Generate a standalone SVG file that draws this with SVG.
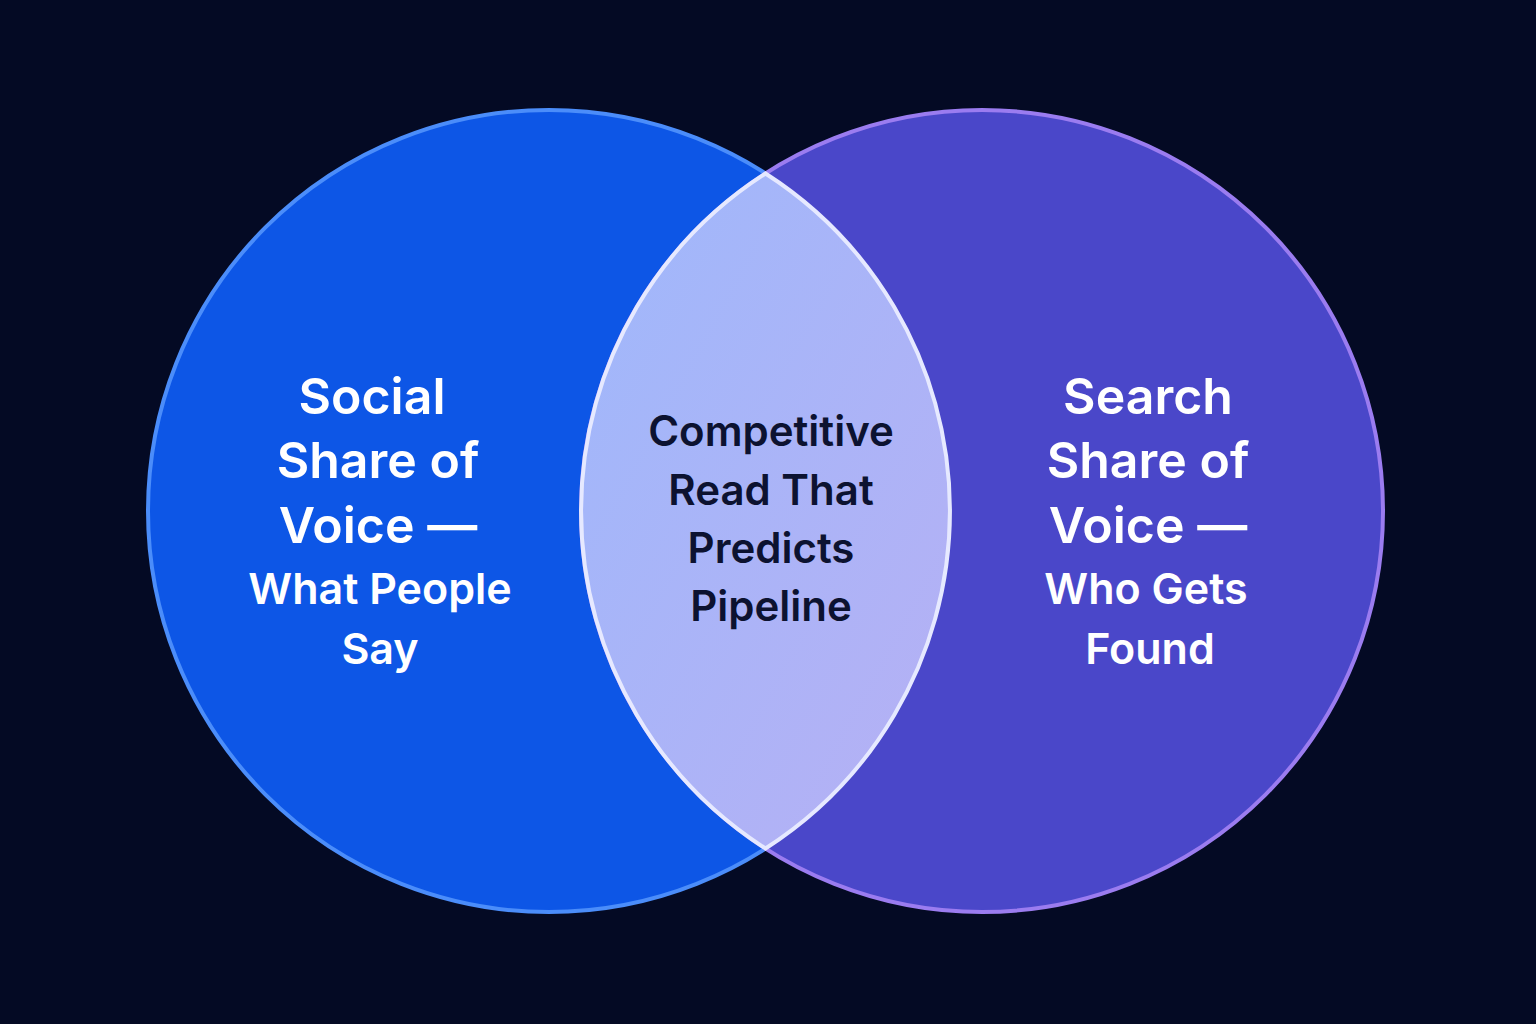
<svg xmlns="http://www.w3.org/2000/svg" width="1536" height="1024" viewBox="0 0 1536 1024">
<defs>
<style>
.t{font-family:Inter,"Noto Sans","Liberation Sans",sans-serif;font-weight:600;text-anchor:middle}
.w{fill:#ffffff}
.d{fill:#0c1230}
</style>
<linearGradient id="lg" x1="0" y1="0" x2="1" y2="1">
<stop offset="0" stop-color="#9fb8fb"/><stop offset="1" stop-color="#b6b0f4"/>
</linearGradient>
</defs>
<rect width="1536" height="1024" fill="#040a24"/>
<g id="left">
<circle cx="549" cy="511" r="401" fill="#0d56e6" stroke="#4b8dfa" stroke-width="4"/>
<text class="t w" font-size="50"><tspan x="372" y="414">Social</tspan><tspan x="378" y="478">Share of</tspan><tspan x="378" y="543">Voice —</tspan></text>
<text class="t w" font-size="43"><tspan x="380" y="604">What People</tspan><tspan x="380" y="664">Say</tspan></text>
</g>
<g id="right">
<circle cx="982" cy="511" r="401" fill="#4a47c9" stroke="#9b7cf0" stroke-width="4"/>
<text class="t w" font-size="50"><tspan x="1148" y="414">Search</tspan><tspan x="1148" y="478">Share of</tspan><tspan x="1148" y="543">Voice —</tspan></text>
<text class="t w" font-size="43"><tspan x="1146" y="604">Who Gets</tspan><tspan x="1150" y="664">Found</tspan></text>
</g>
<g id="overlap">
<path d="M765.5 173.5 A401 401 0 0 1 765.5 848.5 A401 401 0 0 1 765.5 173.5 Z" fill="url(#lg)" stroke="#e6e9ff" stroke-width="4"/>
<text class="t d" font-size="42"><tspan x="771" y="446">Competitive</tspan><tspan x="771" y="505">Read That</tspan><tspan x="771" y="563">Predicts</tspan><tspan x="771" y="621">Pipeline</tspan></text>
</g>
<g id="connectors"/>
</svg>
